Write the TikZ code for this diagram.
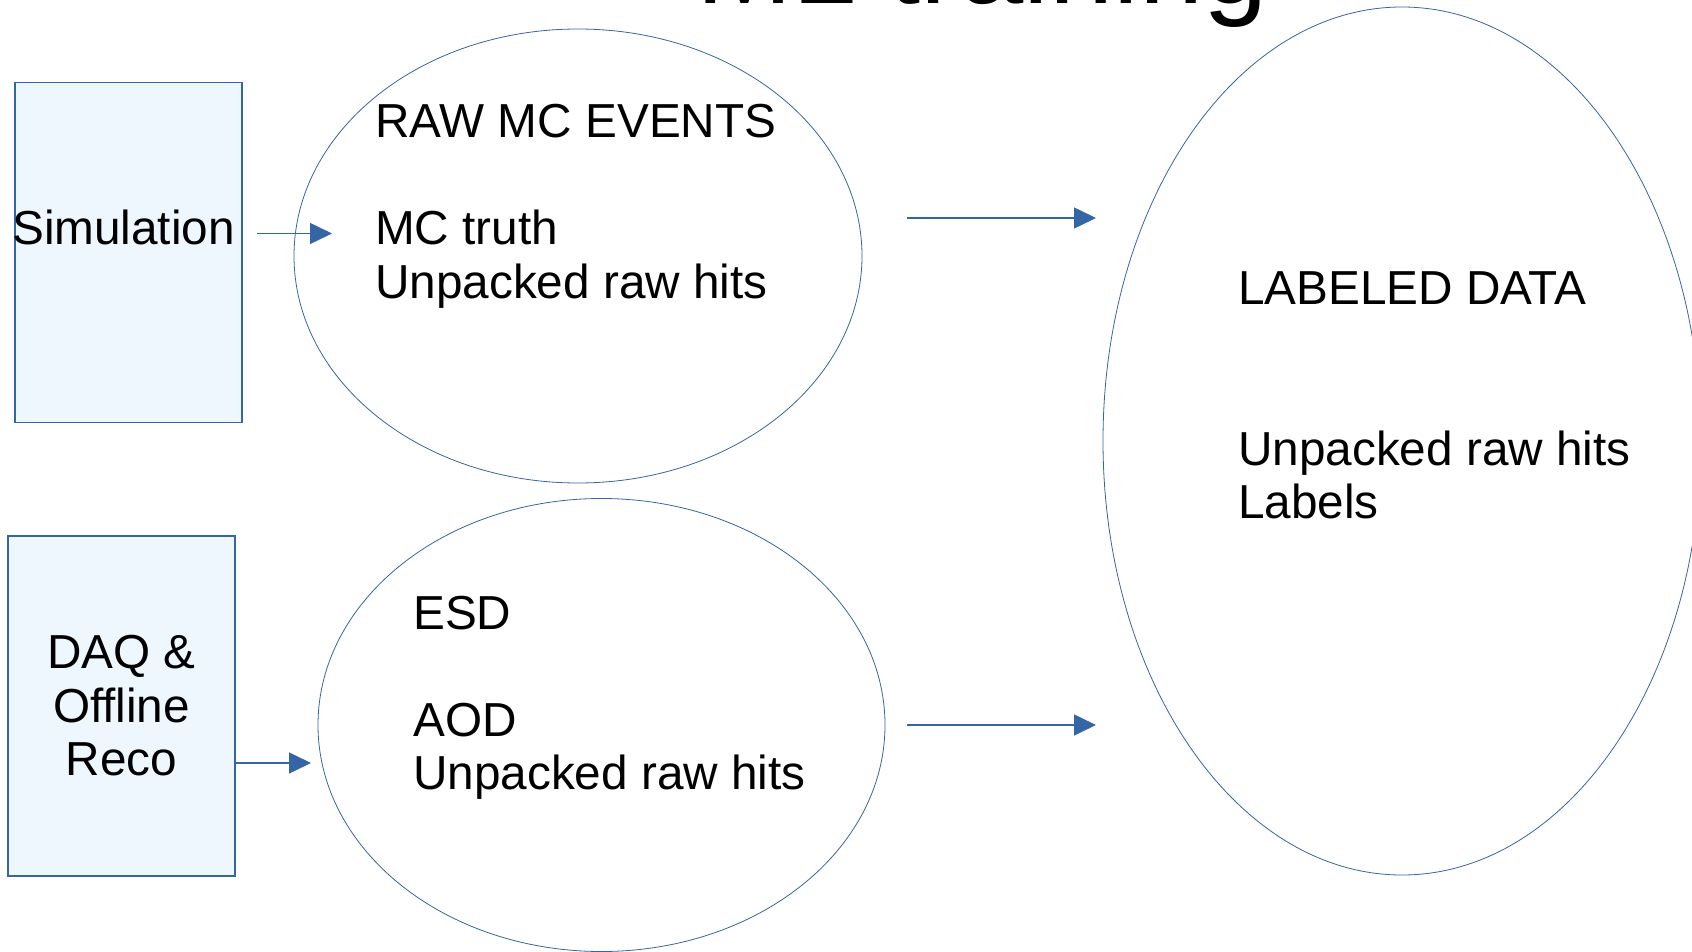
\documentclass[tikz,border=0pt]{standalone}
\usepackage{fontspec}
\setmainfont{Liberation Sans}
\usetikzlibrary{shapes.geometric,arrows.meta}
\definecolor{lineblue}{HTML}{3465A4}
\definecolor{boxfill}{HTML}{EEF6FE}

\begin{document}
\begin{tikzpicture}[
    x=1pt, y=-1pt,
    every node/.style={inner sep=0pt, font=\fontsize{47.7pt}{53.5pt}\selectfont},
    source/.style={draw=lineblue, line width=1.5pt, fill=boxfill, align=center},
    store/.style={ellipse, draw=lineblue, line width=0.8pt},
    entry/.style={anchor=base west, align=left},
    flow/.style={-{Triangle[length=22pt,width=21pt]}, lineblue, line width=1.5pt}
  ]
    \useasboundingbox (0,0) rectangle (1692,952);
    \clip (0,0) rectangle (1692,952);
    \node[anchor=base, font=\fontsize{115.6pt}{130pt}\selectfont] (title) at (982,4) {ML training};

    \node[source, minimum width=227pt, minimum height=340pt] (sim) at (128.5,252.5) {};
    \node[anchor=base west] (simtext) at (12,244) {Simulation};
    \node[source, minimum width=227pt, minimum height=340pt] (daq) at (121.5,706) {DAQ \&\\Offline\\Reco};

    % base anchor sits on the last line
    \node[store, minimum width=568pt, minimum height=454pt] (mc) at (578,256) {};
    \node[entry] (mctext) at (375,298) {RAW MC EVENTS\\[53.5pt]MC truth\\Unpacked raw hits};
    \node[store, minimum width=567pt, minimum height=453pt] (esd) at (601.5,725) {};
    \node[entry] (esdtext) at (413,789.5) {ESD\\[53.5pt]AOD\\Unpacked raw hits};
    \node[store, minimum width=598pt, minimum height=868pt] (lab) at (1402,441) {};
    \node[entry] (labtext) at (1238,518.5) {LABELED DATA\\[107pt]Unpacked raw hits\\Labels};

    \coordinate (simout) at (257,233.5);
    \coordinate (mcin) at (332,233.5);
    \coordinate (daqout) at (235,763);
    \coordinate (esdin) at (311,763);
    \coordinate (mcout) at (907,218);
    \coordinate (labin1) at (1096,218);
    \coordinate (esdout) at (907,725);
    \coordinate (labin2) at (1096,725);

    \draw[flow] (simout) -- (mcin);
    \draw[flow] (daqout) -- (esdin);
    \draw[flow] (mcout) -- (labin1);
    \draw[flow] (esdout) -- (labin2);
  \end{tikzpicture}
\end{document}
